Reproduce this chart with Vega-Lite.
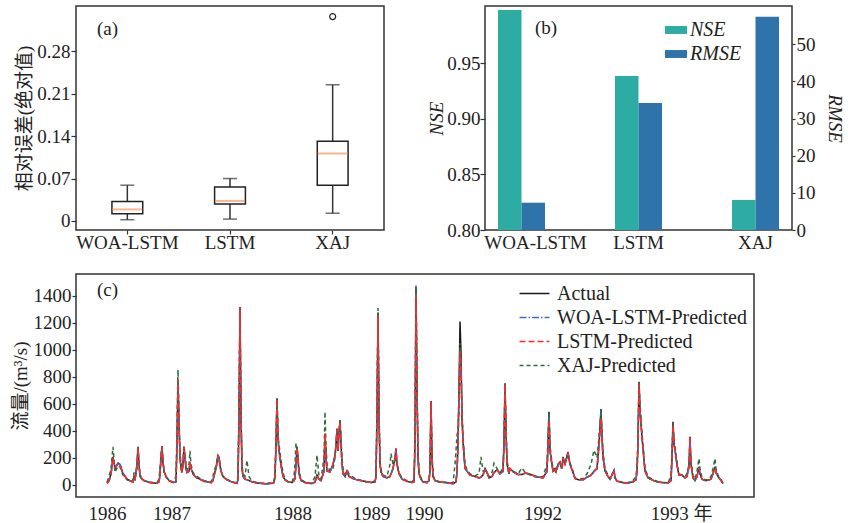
{
  "$schema": "https://vega.github.io/schema/vega-lite/v6.json",
  "autosize": {"type": "none"},
  "padding": {"left": 76, "top": 6, "right": 772, "bottom": 517},
  "background": "white",
  "config": {
    "font": "Liberation Serif, Noto Sans CJK SC",
    "view": {"stroke": "#333333", "strokeWidth": 1.5},
    "axis": {"labelFont": "Liberation Serif, Noto Sans CJK SC", "titleFont": "Liberation Serif, Noto Sans CJK SC", "labelFontSize": 19, "titleFontSize": 19, "labelColor": "#222222", "titleColor": "#222222", "titleFontWeight": "normal", "domain": false, "grid": false, "tickColor": "#333333", "tickWidth": 1.2},
    "legend": {"labelFont": "Liberation Serif", "labelFontSize": 20, "labelColor": "#222222", "labelLimit": 400},
    "title": {"font": "Liberation Serif", "fontSize": 19, "fontWeight": "normal", "color": "#222222", "anchor": "start", "frame": "group", "orient": "top", "offset": 0, "baseline": "top"}
  },
  "datasets": {
    "box": [
      {"model": "WOA-LSTM", "lo": 0.002, "q1": 0.012, "med": 0.019, "q3": 0.032, "hi": 0.059},
      {"model": "LSTM", "lo": 0.003, "q1": 0.028, "med": 0.033, "q3": 0.056, "hi": 0.070},
      {"model": "XAJ", "lo": 0.0128, "q1": 0.0591, "med": 0.1115, "q3": 0.1314, "hi": 0.2248}
    ],
    "outl": [{"model": "XAJ", "v": 0.3375}],
    "metrics": [
      {"model": "WOA-LSTM", "metric": "NSE", "value": 0.998},
      {"model": "WOA-LSTM", "metric": "RMSE", "value": 7.35},
      {"model": "LSTM", "metric": "NSE", "value": 0.9386},
      {"model": "LSTM", "metric": "RMSE", "value": 34.2},
      {"model": "XAJ", "metric": "NSE", "value": 0.827},
      {"model": "XAJ", "metric": "RMSE", "value": 57.4}
    ],
    "ts": [
      {"t":0,"A":10,"W":12,"L":8,"X":20},
      {"t":2,"A":30,"W":28,"L":25,"X":60},
      {"t":4,"A":80,"W":75,"L":70,"X":120},
      {"t":6,"A":205,"W":190,"L":200,"X":280},
      {"t":8,"A":120,"W":130,"L":125,"X":90},
      {"t":11,"A":160,"W":155,"L":150,"X":140},
      {"t":13,"A":150,"W":150,"L":145,"X":130},
      {"t":16,"A":80,"W":85,"L":85,"X":70},
      {"t":20,"A":40,"W":42,"L":40,"X":35},
      {"t":24,"A":25,"W":25,"L":22,"X":25},
      {"t":26,"A":20,"W":20,"L":18,"X":30},
      {"t":27,"A":60,"W":50,"L":55,"X":90},
      {"t":28,"A":40,"W":40,"L":45,"X":30},
      {"t":30,"A":150,"W":140,"L":145,"X":120},
      {"t":31,"A":280,"W":270,"L":275,"X":270},
      {"t":32,"A":150,"W":160,"L":160,"X":140},
      {"t":33,"A":70,"W":75,"L":70,"X":60},
      {"t":35,"A":40,"W":42,"L":40,"X":40},
      {"t":38,"A":25,"W":25,"L":25,"X":28},
      {"t":42,"A":18,"W":18,"L":16,"X":20},
      {"t":46,"A":12,"W":12,"L":10,"X":15},
      {"t":50,"A":10,"W":10,"L":8,"X":12},
      {"t":52,"A":20,"W":18,"L":18,"X":40},
      {"t":53,"A":80,"W":70,"L":75,"X":120},
      {"t":54,"A":200,"W":190,"L":195,"X":220},
      {"t":55,"A":285,"W":280,"L":280,"X":270},
      {"t":56,"A":170,"W":175,"L":170,"X":160},
      {"t":57,"A":100,"W":105,"L":100,"X":90},
      {"t":59,"A":60,"W":60,"L":60,"X":55},
      {"t":62,"A":30,"W":30,"L":30,"X":30},
      {"t":66,"A":15,"W":15,"L":15,"X":20},
      {"t":69,"A":20,"W":20,"L":22,"X":60},
      {"t":70,"A":300,"W":280,"L":290,"X":400},
      {"t":71,"A":775,"W":760,"L":780,"X":850},
      {"t":72,"A":450,"W":460,"L":450,"X":500},
      {"t":73,"A":200,"W":210,"L":205,"X":250},
      {"t":74,"A":120,"W":125,"L":120,"X":150},
      {"t":75,"A":90,"W":95,"L":90,"X":100},
      {"t":76,"A":150,"W":140,"L":145,"X":180},
      {"t":77,"A":280,"W":270,"L":280,"X":292},
      {"t":78,"A":200,"W":205,"L":200,"X":220},
      {"t":79,"A":120,"W":125,"L":120,"X":140},
      {"t":80,"A":90,"W":90,"L":90,"X":110},
      {"t":82,"A":100,"W":95,"L":100,"X":150},
      {"t":83,"A":165,"W":160,"L":165,"X":250},
      {"t":84,"A":120,"W":125,"L":120,"X":150},
      {"t":86,"A":80,"W":80,"L":80,"X":90},
      {"t":88,"A":60,"W":60,"L":60,"X":70},
      {"t":90,"A":50,"W":50,"L":50,"X":60},
      {"t":93,"A":40,"W":40,"L":40,"X":45},
      {"t":97,"A":25,"W":25,"L":25,"X":30},
      {"t":101,"A":20,"W":20,"L":20,"X":22},
      {"t":104,"A":15,"W":15,"L":12,"X":20},
      {"t":106,"A":30,"W":30,"L":30,"X":60},
      {"t":107,"A":70,"W":65,"L":65,"X":100},
      {"t":109,"A":120,"W":115,"L":115,"X":140},
      {"t":111,"A":220,"W":215,"L":215,"X":220},
      {"t":112,"A":200,"W":200,"L":200,"X":180},
      {"t":114,"A":100,"W":105,"L":100,"X":90},
      {"t":116,"A":60,"W":60,"L":60,"X":60},
      {"t":119,"A":40,"W":40,"L":40,"X":40},
      {"t":123,"A":25,"W":25,"L":25,"X":28},
      {"t":127,"A":15,"W":15,"L":15,"X":18},
      {"t":130,"A":10,"W":10,"L":10,"X":15},
      {"t":131,"A":40,"W":35,"L":35,"X":60},
      {"t":132,"A":500,"W":480,"L":490,"X":600},
      {"t":133,"A":1316,"W":1300,"L":1310,"X":1300},
      {"t":134,"A":500,"W":520,"L":510,"X":550},
      {"t":135,"A":120,"W":130,"L":125,"X":150},
      {"t":136,"A":60,"W":65,"L":60,"X":80},
      {"t":138,"A":40,"W":40,"L":40,"X":60},
      {"t":140,"A":35,"W":35,"L":35,"X":180},
      {"t":142,"A":30,"W":30,"L":30,"X":60},
      {"t":145,"A":20,"W":20,"L":20,"X":25},
      {"t":150,"A":12,"W":12,"L":12,"X":15},
      {"t":155,"A":8,"W":8,"L":8,"X":10},
      {"t":160,"A":6,"W":6,"L":5,"X":8},
      {"t":165,"A":10,"W":10,"L":10,"X":15},
      {"t":167,"A":15,"W":15,"L":15,"X":25},
      {"t":168,"A":60,"W":55,"L":55,"X":80},
      {"t":169,"A":300,"W":290,"L":300,"X":320},
      {"t":170,"A":639,"W":630,"L":635,"X":620},
      {"t":171,"A":342,"W":350,"L":345,"X":360},
      {"t":172,"A":250,"W":260,"L":250,"X":300},
      {"t":174,"A":143,"W":150,"L":145,"X":180},
      {"t":176,"A":60,"W":65,"L":60,"X":90},
      {"t":178,"A":35,"W":35,"L":35,"X":40},
      {"t":181,"A":20,"W":20,"L":20,"X":22},
      {"t":185,"A":15,"W":15,"L":15,"X":18},
      {"t":187,"A":30,"W":28,"L":28,"X":60},
      {"t":188,"A":45,"W":45,"L":45,"X":150},
      {"t":189,"A":150,"W":140,"L":145,"X":307},
      {"t":190,"A":280,"W":270,"L":275,"X":250},
      {"t":191,"A":200,"W":205,"L":200,"X":180},
      {"t":192,"A":80,"W":85,"L":80,"X":100},
      {"t":194,"A":30,"W":32,"L":30,"X":40},
      {"t":198,"A":15,"W":15,"L":15,"X":18},
      {"t":201,"A":10,"W":10,"L":10,"X":12},
      {"t":205,"A":8,"W":8,"L":8,"X":10},
      {"t":208,"A":20,"W":18,"L":18,"X":60},
      {"t":210,"A":70,"W":65,"L":65,"X":218},
      {"t":212,"A":40,"W":40,"L":40,"X":60},
      {"t":214,"A":30,"W":30,"L":30,"X":40},
      {"t":217,"A":100,"W":95,"L":100,"X":200},
      {"t":218,"A":379,"W":370,"L":379,"X":540},
      {"t":219,"A":200,"W":210,"L":205,"X":300},
      {"t":220,"A":100,"W":105,"L":100,"X":150},
      {"t":223,"A":94,"W":95,"L":94,"X":100},
      {"t":226,"A":150,"W":145,"L":150,"X":120},
      {"t":228,"A":218,"W":210,"L":215,"X":200},
      {"t":229,"A":300,"W":290,"L":295,"X":280},
      {"t":230,"A":416,"W":405,"L":410,"X":416},
      {"t":231,"A":250,"W":260,"L":255,"X":300},
      {"t":232,"A":380,"W":370,"L":375,"X":400},
      {"t":233,"A":478,"W":465,"L":460,"X":478},
      {"t":234,"A":300,"W":310,"L":300,"X":350},
      {"t":235,"A":150,"W":160,"L":155,"X":200},
      {"t":236,"A":80,"W":85,"L":80,"X":120},
      {"t":238,"A":60,"W":60,"L":60,"X":80},
      {"t":239,"A":80,"W":78,"L":80,"X":90},
      {"t":240,"A":100,"W":95,"L":100,"X":110},
      {"t":242,"A":60,"W":62,"L":60,"X":80},
      {"t":246,"A":45,"W":45,"L":45,"X":55},
      {"t":250,"A":35,"W":35,"L":35,"X":40},
      {"t":255,"A":28,"W":28,"L":28,"X":30},
      {"t":260,"A":20,"W":20,"L":20,"X":22},
      {"t":265,"A":15,"W":15,"L":15,"X":18},
      {"t":268,"A":20,"W":20,"L":20,"X":30},
      {"t":269,"A":60,"W":55,"L":55,"X":80},
      {"t":270,"A":500,"W":480,"L":490,"X":600},
      {"t":271,"A":1271,"W":1260,"L":1250,"X":1308},
      {"t":272,"A":500,"W":520,"L":510,"X":560},
      {"t":273,"A":150,"W":160,"L":155,"X":180},
      {"t":274,"A":94,"W":100,"L":95,"X":110},
      {"t":276,"A":60,"W":62,"L":60,"X":70},
      {"t":280,"A":50,"W":50,"L":50,"X":60},
      {"t":283,"A":60,"W":58,"L":60,"X":150},
      {"t":284,"A":80,"W":75,"L":80,"X":230},
      {"t":286,"A":120,"W":115,"L":120,"X":150},
      {"t":288,"A":200,"W":195,"L":200,"X":180},
      {"t":289,"A":268,"W":260,"L":268,"X":200},
      {"t":290,"A":150,"W":160,"L":155,"X":140},
      {"t":292,"A":80,"W":85,"L":80,"X":90},
      {"t":295,"A":40,"W":42,"L":40,"X":50},
      {"t":300,"A":25,"W":25,"L":25,"X":30},
      {"t":305,"A":15,"W":15,"L":15,"X":20},
      {"t":307,"A":20,"W":20,"L":20,"X":40},
      {"t":308,"A":300,"W":290,"L":280,"X":400},
      {"t":309,"A":1469,"W":1475,"L":1407,"X":1460},
      {"t":310,"A":700,"W":720,"L":680,"X":750},
      {"t":311,"A":200,"W":210,"L":200,"X":250},
      {"t":312,"A":80,"W":85,"L":80,"X":100},
      {"t":314,"A":40,"W":42,"L":40,"X":50},
      {"t":316,"A":20,"W":20,"L":20,"X":25},
      {"t":320,"A":15,"W":15,"L":12,"X":18},
      {"t":322,"A":30,"W":28,"L":30,"X":40},
      {"t":323,"A":100,"W":95,"L":100,"X":120},
      {"t":324,"A":619,"W":610,"L":615,"X":600},
      {"t":325,"A":200,"W":210,"L":205,"X":220},
      {"t":326,"A":60,"W":65,"L":60,"X":70},
      {"t":328,"A":30,"W":30,"L":30,"X":35},
      {"t":332,"A":20,"W":20,"L":20,"X":22},
      {"t":338,"A":15,"W":15,"L":15,"X":18},
      {"t":343,"A":10,"W":10,"L":10,"X":12},
      {"t":346,"A":8,"W":8,"L":5,"X":15},
      {"t":348,"A":15,"W":15,"L":15,"X":150},
      {"t":349,"A":20,"W":20,"L":20,"X":250},
      {"t":350,"A":100,"W":90,"L":95,"X":366},
      {"t":351,"A":300,"W":280,"L":290,"X":400},
      {"t":352,"A":700,"W":650,"L":660,"X":600},
      {"t":353,"A":1209,"W":998,"L":986,"X":1050},
      {"t":354,"A":986,"W":900,"L":880,"X":800},
      {"t":355,"A":500,"W":520,"L":510,"X":550},
      {"t":356,"A":317,"W":330,"L":320,"X":350},
      {"t":358,"A":119,"W":125,"L":120,"X":150},
      {"t":360,"A":100,"W":100,"L":100,"X":110},
      {"t":363,"A":70,"W":72,"L":70,"X":80},
      {"t":368,"A":60,"W":60,"L":60,"X":65},
      {"t":372,"A":50,"W":50,"L":50,"X":80},
      {"t":374,"A":55,"W":55,"L":55,"X":205},
      {"t":376,"A":70,"W":68,"L":70,"X":100},
      {"t":378,"A":119,"W":110,"L":115,"X":100},
      {"t":380,"A":90,"W":92,"L":90,"X":80},
      {"t":382,"A":50,"W":52,"L":50,"X":60},
      {"t":385,"A":60,"W":60,"L":60,"X":90},
      {"t":387,"A":90,"W":88,"L":90,"X":158},
      {"t":390,"A":110,"W":108,"L":110,"X":120},
      {"t":393,"A":80,"W":82,"L":80,"X":90},
      {"t":396,"A":100,"W":95,"L":100,"X":120},
      {"t":397,"A":300,"W":290,"L":295,"X":330},
      {"t":398,"A":751,"W":740,"L":745,"X":720},
      {"t":399,"A":400,"W":410,"L":405,"X":420},
      {"t":400,"A":150,"W":160,"L":155,"X":180},
      {"t":402,"A":80,"W":85,"L":80,"X":100},
      {"t":403,"A":119,"W":115,"L":119,"X":110},
      {"t":407,"A":90,"W":90,"L":90,"X":95},
      {"t":411,"A":75,"W":75,"L":75,"X":80},
      {"t":415,"A":74,"W":74,"L":74,"X":124},
      {"t":418,"A":85,"W":85,"L":85,"X":90},
      {"t":422,"A":80,"W":80,"L":80,"X":75},
      {"t":427,"A":65,"W":65,"L":65,"X":60},
      {"t":432,"A":55,"W":55,"L":55,"X":50},
      {"t":436,"A":50,"W":50,"L":50,"X":60},
      {"t":440,"A":100,"W":95,"L":100,"X":150},
      {"t":441,"A":300,"W":290,"L":280,"X":350},
      {"t":442,"A":540,"W":530,"L":478,"X":540},
      {"t":443,"A":250,"W":260,"L":250,"X":300},
      {"t":444,"A":200,"W":195,"L":190,"X":220},
      {"t":446,"A":100,"W":105,"L":100,"X":120},
      {"t":448,"A":119,"W":115,"L":119,"X":100},
      {"t":449,"A":100,"W":100,"L":100,"X":90},
      {"t":451,"A":150,"W":145,"L":150,"X":140},
      {"t":453,"A":168,"W":160,"L":165,"X":150},
      {"t":455,"A":120,"W":125,"L":120,"X":110},
      {"t":456,"A":205,"W":200,"L":200,"X":180},
      {"t":458,"A":150,"W":155,"L":150,"X":160},
      {"t":461,"A":242,"W":235,"L":240,"X":220},
      {"t":463,"A":150,"W":155,"L":150,"X":160},
      {"t":466,"A":90,"W":92,"L":90,"X":100},
      {"t":468,"A":45,"W":45,"L":45,"X":50},
      {"t":472,"A":35,"W":35,"L":35,"X":40},
      {"t":476,"A":35,"W":35,"L":35,"X":45},
      {"t":480,"A":55,"W":55,"L":55,"X":80},
      {"t":484,"A":70,"W":68,"L":70,"X":150},
      {"t":487,"A":100,"W":95,"L":100,"X":255},
      {"t":490,"A":120,"W":115,"L":120,"X":200},
      {"t":492,"A":300,"W":290,"L":280,"X":350},
      {"t":494,"A":560,"W":550,"L":490,"X":540},
      {"t":495,"A":350,"W":360,"L":340,"X":380},
      {"t":496,"A":200,"W":210,"L":200,"X":250},
      {"t":498,"A":100,"W":105,"L":100,"X":120},
      {"t":501,"A":60,"W":60,"L":60,"X":70},
      {"t":503,"A":40,"W":40,"L":40,"X":45},
      {"t":507,"A":106,"W":100,"L":106,"X":60},
      {"t":508,"A":50,"W":52,"L":50,"X":50},
      {"t":510,"A":25,"W":25,"L":25,"X":30},
      {"t":515,"A":15,"W":15,"L":15,"X":18},
      {"t":520,"A":10,"W":10,"L":10,"X":12},
      {"t":526,"A":20,"W":20,"L":20,"X":30},
      {"t":529,"A":35,"W":35,"L":35,"X":60},
      {"t":530,"A":100,"W":95,"L":95,"X":150},
      {"t":531,"A":300,"W":290,"L":290,"X":350},
      {"t":532,"A":763,"W":755,"L":750,"X":760},
      {"t":533,"A":550,"W":560,"L":550,"X":600},
      {"t":535,"A":350,"W":360,"L":350,"X":380},
      {"t":536,"A":268,"W":275,"L":265,"X":300},
      {"t":538,"A":100,"W":105,"L":100,"X":120},
      {"t":541,"A":50,"W":52,"L":50,"X":60},
      {"t":545,"A":35,"W":35,"L":35,"X":40},
      {"t":550,"A":20,"W":20,"L":20,"X":25},
      {"t":555,"A":15,"W":15,"L":15,"X":18},
      {"t":561,"A":12,"W":12,"L":12,"X":15},
      {"t":564,"A":30,"W":28,"L":30,"X":60},
      {"t":565,"A":200,"W":190,"L":195,"X":250},
      {"t":566,"A":465,"W":455,"L":440,"X":460},
      {"t":567,"A":300,"W":310,"L":300,"X":330},
      {"t":568,"A":260,"W":265,"L":260,"X":280},
      {"t":570,"A":143,"W":150,"L":145,"X":160},
      {"t":572,"A":69,"W":72,"L":70,"X":80},
      {"t":575,"A":69,"W":69,"L":69,"X":70},
      {"t":578,"A":50,"W":50,"L":50,"X":60},
      {"t":580,"A":60,"W":58,"L":60,"X":80},
      {"t":582,"A":150,"W":140,"L":150,"X":120},
      {"t":583,"A":354,"W":330,"L":354,"X":250},
      {"t":584,"A":150,"W":160,"L":150,"X":180},
      {"t":586,"A":50,"W":55,"L":50,"X":70},
      {"t":588,"A":30,"W":32,"L":30,"X":40},
      {"t":590,"A":60,"W":58,"L":60,"X":100},
      {"t":592,"A":131,"W":128,"L":120,"X":193},
      {"t":593,"A":80,"W":82,"L":80,"X":120},
      {"t":595,"A":40,"W":42,"L":40,"X":50},
      {"t":598,"A":30,"W":30,"L":30,"X":35},
      {"t":601,"A":32,"W":32,"L":32,"X":35},
      {"t":604,"A":40,"W":40,"L":40,"X":60},
      {"t":606,"A":80,"W":78,"L":80,"X":120},
      {"t":608,"A":131,"W":128,"L":125,"X":193},
      {"t":609,"A":90,"W":92,"L":90,"X":120},
      {"t":611,"A":60,"W":62,"L":60,"X":70},
      {"t":613,"A":40,"W":42,"L":40,"X":45},
      {"t":615,"A":20,"W":20,"L":20,"X":25},
      {"t":616,"A":7,"W":8,"L":7,"X":10}
    ]
  },
  "spacing": 268,
  "bounds": "flush",
  "resolve": {"scale": {"color": "independent", "strokeDash": "independent"}, "legend": {"color": "independent", "strokeDash": "independent"}},
  "vconcat": [
    {
      "spacing": 101,
      "bounds": "flush",
      "hconcat": [
        {
          "width": 308,
          "height": 224,
          "title": {"text": "(a)", "dx": 21, "dy": 37},
          "encoding": {
            "x": {"field": "model", "type": "nominal", "sort": ["WOA-LSTM", "LSTM", "XAJ"],
                  "scale": {"domain": ["WOA-LSTM", "LSTM", "XAJ"], "paddingInner": 0, "paddingOuter": 0},
                  "axis": {"title": null, "labelAngle": 0, "ticks": true, "tickSize": 4, "labelPadding": -1}}
          },
          "layer": [
            {
              "data": {"name": "box"},
              "mark": {"type": "rule", "color": "#333333", "strokeWidth": 1.5},
              "encoding": {
                "y": {"field": "lo", "type": "quantitative", "scale": {"domain": [-0.015, 0.355], "nice": false, "zero": false},
                      "axis": {"title": "相对误差(绝对值)", "values": [0, 0.07, 0.14, 0.21, 0.28], "labelExpr": "datum.value == 0 ? '0' : format(datum.value, '.2f')", "tickSize": 5, "labelPadding": 1, "titlePadding": 2}},
                "y2": {"field": "hi"}
              }
            },
            {
              "data": {"name": "box"},
              "mark": {"type": "bar", "fill": "white", "stroke": "#222222", "strokeWidth": 1.5, "width": {"band": 0.3}},
              "encoding": {"y": {"field": "q1", "type": "quantitative"}, "y2": {"field": "q3"}}
            },
            {
              "data": {"name": "box"},
              "mark": {"type": "tick", "color": "#f39a5c", "thickness": 2, "size": 30},
              "encoding": {"y": {"field": "med", "type": "quantitative"}}
            },
            {
              "data": {"name": "box"},
              "mark": {"type": "tick", "color": "#333333", "thickness": 1.5, "size": 14},
              "encoding": {"y": {"field": "lo", "type": "quantitative"}}
            },
            {
              "data": {"name": "box"},
              "mark": {"type": "tick", "color": "#333333", "thickness": 1.5, "size": 14},
              "encoding": {"y": {"field": "hi", "type": "quantitative"}}
            },
            {
              "data": {"name": "outl"},
              "mark": {"type": "point", "shape": "circle", "filled": false, "stroke": "#222222", "strokeWidth": 1.2, "size": 36, "opacity": 1},
              "encoding": {"y": {"field": "v", "type": "quantitative"}}
            }
          ]
        },
        {
          "width": 307,
          "height": 224,
          "title": {"text": "(b)", "dx": 50, "dy": 36},
          "data": {"name": "metrics"},
          "encoding": {
            "x": {"field": "model", "type": "nominal", "sort": ["WOA-LSTM", "LSTM", "XAJ"],
                  "scale": {"domain": ["WOA-LSTM", "LSTM", "XAJ"], "paddingInner": 0.598, "paddingOuter": 0.111},
                  "axis": {"title": null, "labelAngle": 0, "ticks": false, "tickSize": 0, "labelPadding": 3,
                           "labelOffset": {"condition": {"test": "datum.value === 'WOA-LSTM'", "value": 14}, "value": 0}}},
            "xOffset": {"field": "metric", "type": "nominal", "scale": {"domain": ["NSE", "RMSE"], "paddingInner": 0, "paddingOuter": 0}},
            "color": {"field": "metric", "type": "nominal",
                      "scale": {"domain": ["NSE", "RMSE"], "range": ["#2caca2", "#2e74aa"]},
                      "legend": {"orient": "none", "legendX": 589, "legendY": 13, "title": null, "labelFontStyle": "italic", "labelFontSize": 20,
                                 "symbolType": "M-1,-0.36H1V0.36H-1Z", "symbolSize": 484, "symbolStrokeWidth": 0, "symbolOpacity": 1, "rowPadding": 3, "labelOffset": 3}}
          },
          "layer": [
            {
              "transform": [{"filter": "datum.metric === 'NSE'"}],
              "mark": {"type": "bar"},
              "encoding": {
                "y": {"field": "value", "type": "quantitative", "scale": {"domain": [0.8, 1.0015], "nice": false, "zero": false},
                      "axis": {"title": "NSE", "titleFontStyle": "italic", "values": [0.8, 0.85, 0.9, 0.95], "format": ".2f", "tickSize": 5, "labelPadding": 0, "titlePadding": 0}},
                "y2": {"datum": 0.8}
              }
            },
            {
              "transform": [{"filter": "datum.metric === 'RMSE'"}],
              "mark": {"type": "bar"},
              "encoding": {
                "y": {"field": "value", "type": "quantitative", "scale": {"domain": [0, 60.3], "nice": false, "zero": true},
                      "axis": {"orient": "right", "title": "RMSE", "titleFontStyle": "italic", "values": [0, 10, 20, 30, 40, 50], "tickSize": 3, "labelPadding": 1, "titlePadding": 9}}
              }
            }
          ],
          "resolve": {"scale": {"y": "independent"}, "axis": {"y": "independent"}}
        }
      ]
    },
    {
      "width": 678,
      "height": 223,
      "title": {"text": "(c)", "dx": 21, "dy": 30},
      "data": {"name": "ts"},
      "transform": [{"fold": ["A", "W", "X", "L"], "as": ["s", "v"]}],
      "mark": {"type": "line", "strokeWidth": 1.5, "strokeCap": "butt"},
      "encoding": {
        "x": {"field": "t", "type": "quantitative", "scale": {"domain": [-31, 647], "nice": false, "zero": false},
              "axis": {"title": null, "values": [0, 64.5, 185.5, 264, 317, 435.5, 574], "ticks": false, "tickSize": 0, "labelPadding": 7,
                       "labelExpr": "datum.value == 0 ? '1986' : datum.value == 64.5 ? '1987' : datum.value == 185.5 ? '1988' : datum.value == 264 ? '1989' : datum.value == 317 ? '1990' : datum.value == 435.5 ? '1992' : '1993 年'"}},
        "y": {"field": "v", "type": "quantitative", "scale": {"domain": [-92, 1561], "nice": false, "zero": false},
              "axis": {"title": "流量/(m³/s)", "format": "d", "values": [0, 200, 400, 600, 800, 1000, 1200, 1400], "tickSize": 4, "labelPadding": 1, "titlePadding": 3}},
        "color": {"field": "s", "type": "nominal",
                  "scale": {"domain": ["A", "W", "L", "X"], "range": ["#1a1a1a", "#3f6cc9", "#ff2b2b", "#2f6b3c"]},
                  "legend": {"orient": "none", "legendX": 446, "legendY": 7, "title": null, "symbolType": "M-1.3,0H1.3", "symbolSize": 529, "symbolStrokeWidth": 1.5, "rowPadding": 1, "labelOffset": 10, "labelFontSize": 20, "labelLimit": 400,
                             "labelExpr": "datum.value == 'A' ? 'Actual' : datum.value == 'W' ? 'WOA-LSTM-Predicted' : datum.value == 'L' ? 'LSTM-Predicted' : 'XAJ-Predicted'"}},
        "strokeDash": {"field": "s", "type": "nominal",
                       "scale": {"domain": ["A", "W", "L", "X"], "range": [[1, 0], [7, 2, 1.5, 2], [6, 3], [4, 3]]},
                       "legend": null}
      }
    }
  ]
}
